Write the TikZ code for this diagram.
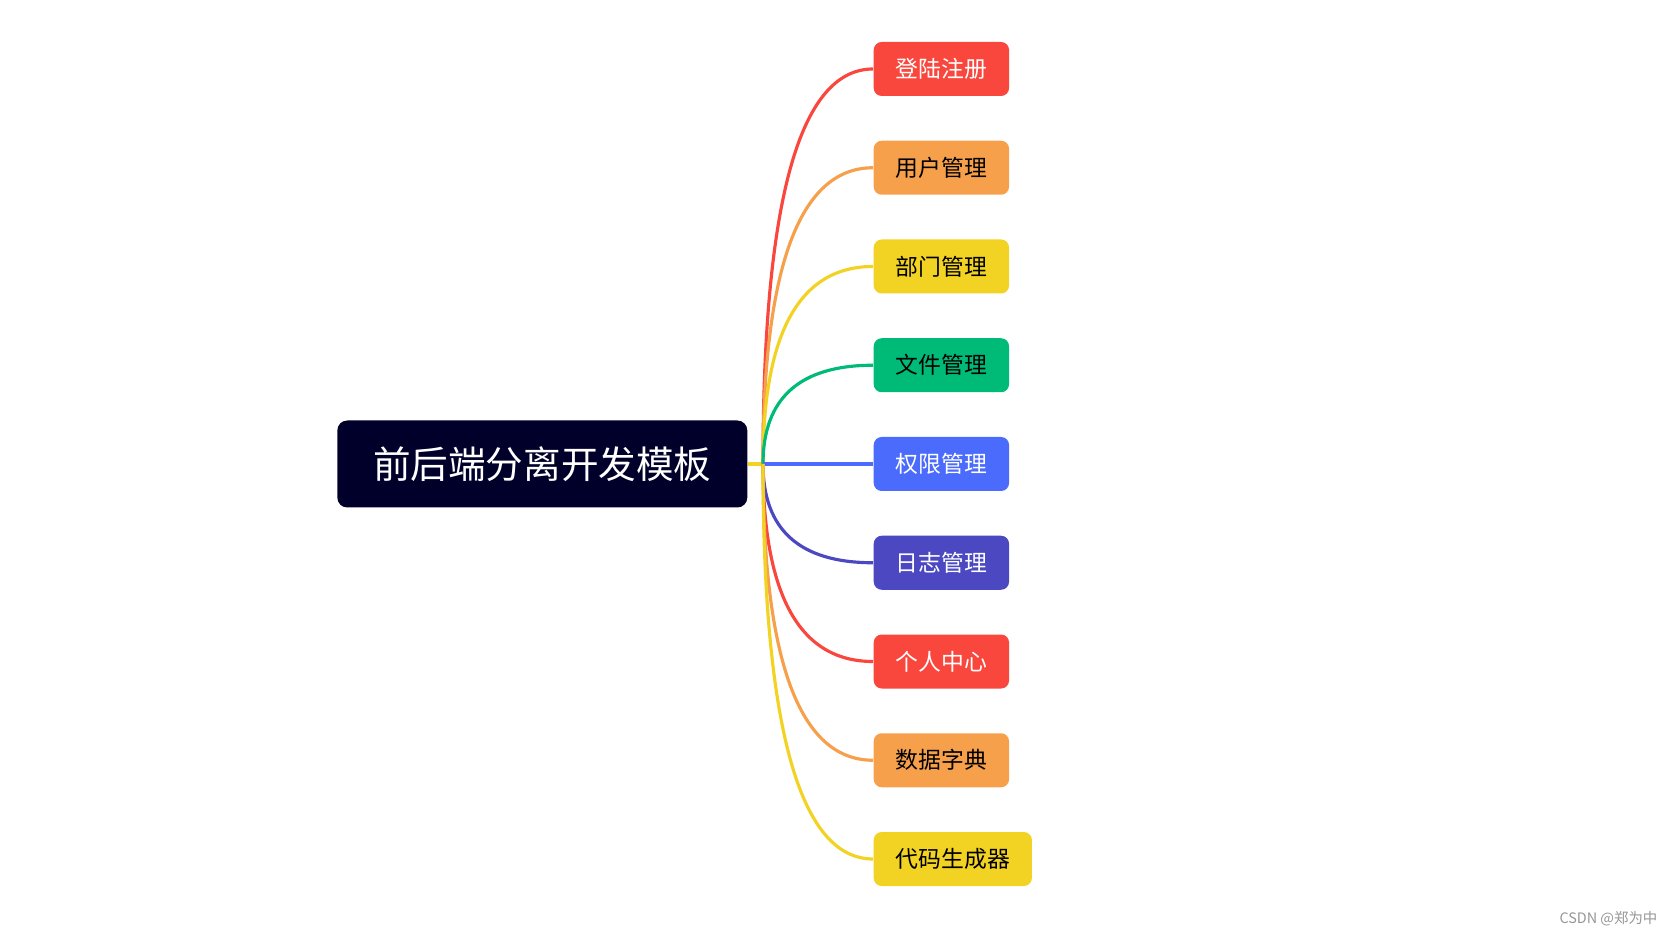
\documentclass[tikz,border=0pt]{standalone}
\usepackage{fontspec}
\usepackage{xcolor}
\usepackage{tikz}
\usetikzlibrary{calc}
\newfontfamily\cjk{Noto Sans CJK SC}
\definecolor{rootnavy}{RGB}{0,0,43}
\definecolor{mapred}{RGB}{249,71,61}
\definecolor{maporange}{RGB}{247,160,75}
\definecolor{mapyellow}{RGB}{242,211,35}
\definecolor{mapgreen}{RGB}{0,186,120}
\definecolor{mapblue}{RGB}{74,107,251}
\definecolor{mappurple}{RGB}{75,72,194}
\definecolor{markgray}{RGB}{150,150,150}

\begin{document}
\begin{tikzpicture}[
  rootbox/.style={fill=rootnavy, text=white, rounded corners=0.1cm, inner xsep=0pt,
    minimum width=4.10cm, minimum height=0.87cm, font=\cjk\fontsize{10.7pt}{13pt}\selectfont},
  topicbox/.style={rounded corners=0.08cm, inner xsep=0.22cm, minimum height=0.54cm,
    anchor=west, font=\cjk\fontsize{6.5pt}{8pt}\selectfont},
  maplink/.style={line width=0.9pt}
]
\useasboundingbox (0,0) rectangle (16.72,-9.36);

% centre topic and hub
\node[rootbox, anchor=east] (root) at (7.48,-4.64) {前后端分离开发模板};
\coordinate (hub) at (7.63,-4.64);

% topics
\node[topicbox, fill=mapred, text=white]     (login)  at (8.73,-0.69)   {登陆注册};
\node[topicbox, fill=maporange, text=black]  (user)   at (8.73,-1.6775) {用户管理};
\node[topicbox, fill=mapyellow, text=black]  (dept)   at (8.73,-2.665)  {部门管理};
\node[topicbox, fill=mapgreen, text=black]   (file)   at (8.73,-3.6525) {文件管理};
\node[topicbox, fill=mapblue, text=white]    (perm)   at (8.73,-4.64)   {权限管理};
\node[topicbox, fill=mappurple, text=white]  (log)    at (8.73,-5.6275) {日志管理};
\node[topicbox, fill=mapred, text=white]     (center) at (8.73,-6.615)  {个人中心};
\node[topicbox, fill=maporange, text=black]  (dict)   at (8.73,-7.6025) {数据字典};
\node[topicbox, fill=mapyellow, text=black]  (codegen) at (8.73,-8.59)  {代码生成器};

% links
\draw[maplink, mapyellow] (root.east) -- (hub);
\draw[maplink, mapred] (hub) .. controls ($(hub)!2/3!(hub|-login)$) and ($(login.west)!2/3!(hub|-login)$) .. (login.west);
\draw[maplink, maporange] (hub) .. controls ($(hub)!2/3!(hub|-user)$) and ($(user.west)!2/3!(hub|-user)$) .. (user.west);
\draw[maplink, mapyellow] (hub) .. controls ($(hub)!2/3!(hub|-dept)$) and ($(dept.west)!2/3!(hub|-dept)$) .. (dept.west);
\draw[maplink, mapgreen] (hub) .. controls ($(hub)!2/3!(hub|-file)$) and ($(file.west)!2/3!(hub|-file)$) .. (file.west);
\draw[maplink, mapblue] (hub) -- (perm.west);
\draw[maplink, mappurple] (hub) .. controls ($(hub)!2/3!(hub|-log)$) and ($(log.west)!2/3!(hub|-log)$) .. (log.west);
\draw[maplink, mapred] (hub) .. controls ($(hub)!2/3!(hub|-center)$) and ($(center.west)!2/3!(hub|-center)$) .. (center.west);
\draw[maplink, maporange] (hub) .. controls ($(hub)!2/3!(hub|-dict)$) and ($(dict.west)!2/3!(hub|-dict)$) .. (dict.west);
\draw[maplink, mapyellow] (hub) .. controls ($(hub)!2/3!(hub|-codegen)$) and ($(codegen.west)!2/3!(hub|-codegen)$) .. (codegen.west);

% watermark
\node[anchor=east, text=markgray, font=\cjk\fontsize{4.1pt}{5pt}\selectfont, inner sep=0pt] (mark) at (16.58,-9.19) {CSDN @郑为中};
\end{tikzpicture}
\end{document}
